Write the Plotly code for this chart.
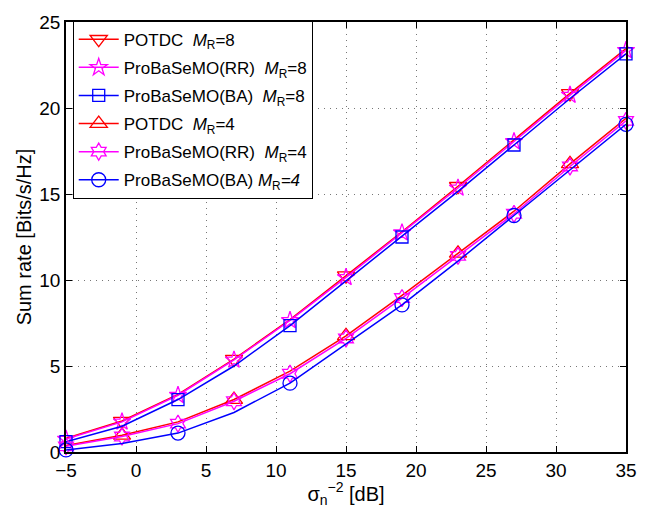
import plotly.graph_objects as go

# SNR grid (dB)
snr = [-5, -1, 3, 7, 11, 15, 19, 23, 27, 31, 35]

# Sum rate [Bits/s/Hz]
potdc_m8 = [0.8, 1.8, 3.35, 5.4, 7.7, 10.25, 12.8, 15.45, 18.15, 20.85, 23.45]
rr_m8 = [0.75, 1.75, 3.3, 5.35, 7.65, 10.15, 12.75, 15.35, 18.05, 20.75, 23.35]
ba_m8 = [0.6, 1.5, 3.05, 5.0, 7.35, 9.95, 12.5, 15.15, 17.85, 20.55, 23.15]
potdc_m4 = [0.38, 0.97, 1.75, 3.05, 4.7, 6.75, 9.1, 11.55, 14.0, 16.75, 19.4]
rr_m4 = [0.33, 0.9, 1.65, 2.95, 4.55, 6.6, 8.95, 11.4, 13.85, 16.6, 19.25]
ba_m4 = [0.12, 0.5, 1.1, 2.3, 4.0, 6.3, 8.55, 11.1, 13.75, 16.45, 19.05]

labels = [
    "POTDC  <i>M</i><sub>R</sub>=8",
    "ProBaSeMO(RR)  <i>M</i><sub>R</sub>=8",
    "ProBaSeMO(BA)  <i>M</i><sub>R</sub>=8",
    "POTDC  <i>M</i><sub>R</sub>=4",
    "ProBaSeMO(RR)  <i>M</i><sub>R</sub>=4",
    "ProBaSeMO(BA) <i>M</i><sub>R</sub><i>=4</i>",
]

RED, MAG, BLUE = "#ff0000", "#ff00ff", "#0000ff"

# (values, colour, symbol, marker size, indices carrying a marker)
series = [
    (potdc_m8, RED, "triangle-down-open", 15, [1, 3, 5, 7, 9]),
    (rr_m8, MAG, "star-open", 13, list(range(11))),
    (ba_m8, BLUE, "square-open", 12, [0, 2, 4, 6, 8, 10]),
    (potdc_m4, RED, "triangle-up-open", 15, [1, 3, 5, 7, 9]),
    (rr_m4, MAG, "hexagram-open", 13, list(range(11))),
    (ba_m4, BLUE, "circle-open", 14, [0, 2, 4, 6, 8, 10]),
]

fig = go.Figure()
for k, ((vals, col, sym, ms, idx), name) in enumerate(zip(series, labels)):
    grp = f"s{k}"
    fig.add_trace(go.Scatter(
        x=snr, y=vals, mode="lines", line=dict(color=col, width=1.5),
        showlegend=False, hoverinfo="skip", legendgroup=grp))
    fig.add_trace(go.Scatter(
        x=[snr[i] for i in idx], y=[vals[i] for i in idx], mode="markers",
        marker=dict(symbol=sym, size=ms, color=col, line=dict(width=1.3, color=col)),
        showlegend=False, cliponaxis=False, legendgroup=grp))
    # legend entry
    fig.add_trace(go.Scatter(
        x=[None], y=[None], mode="lines+markers", name=name, legendgroup=grp,
        line=dict(color=col, width=1.5),
        marker=dict(symbol=sym, size=ms, color=col, line=dict(width=1.3, color=col))))

axis_common = dict(
    showline=True, linecolor="black", linewidth=1.5, mirror="ticks",
    ticks="inside", ticklen=6, tickcolor="black",
    showgrid=True, gridcolor="#777777", griddash="1px,5px", gridwidth=1,
    zeroline=False, tickfont=dict(size=19, color="black"),
)

fig.update_layout(
    width=653, height=508,
    margin=dict(l=66, r=27, t=17, b=56),
    paper_bgcolor="white", plot_bgcolor="white",
    font=dict(family="Liberation Sans, Arial, sans-serif", color="black", size=17),
    xaxis=dict(range=[-5, 35], tickvals=[-5, 0, 5, 10, 15, 20, 25, 30, 35],
               ticktext=["\u22125", "0", "5", "10", "15", "20", "25", "30", "35"],
               title=dict(text="\u03c3<sub>n</sub><sup>\u22122</sup> [dB]", font=dict(size=20), standoff=0),
               **axis_common),
    yaxis=dict(range=[0, 25], tickvals=[0, 5, 10, 15, 20, 25],
               title=dict(text="Sum rate [Bits/s/Hz]", font=dict(size=20), standoff=2),
               **axis_common),
    legend=dict(x=0.012, y=1.003, xanchor="left", yanchor="top",
                bgcolor="white", bordercolor="black", borderwidth=1,
                font=dict(size=17), itemwidth=40, tracegroupgap=3),
)

fig.write_html("out.html")
